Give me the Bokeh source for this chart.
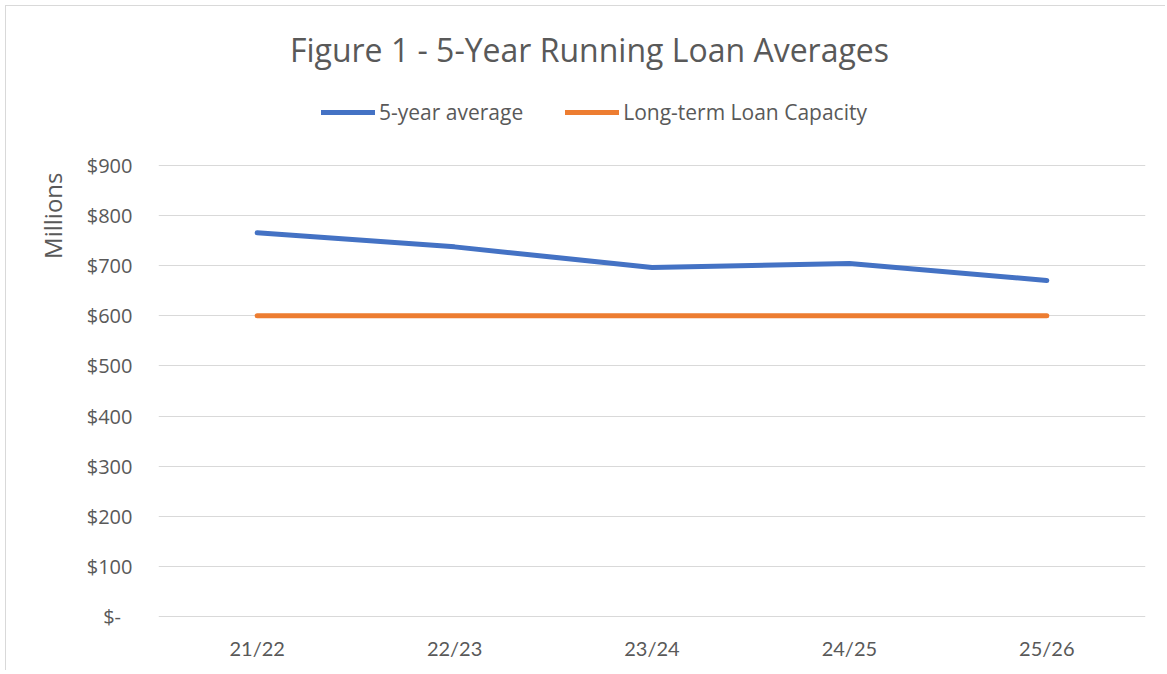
import math
from bokeh.plotting import figure
from bokeh.models import (FactorRange, Range1d, Legend, LegendItem, Title, Label,
                          FixedTicker, ColumnDataSource)
from bokeh.embed import file_html
from bokeh.resources import INLINE

# ---- data ----
years = ["21/22", "22/23", "23/24", "24/25", "25/26"]
five_year_avg = [765, 737, 696, 704, 670]
loan_capacity = [600, 600, 600, 600, 600]
y_ticks = [0, 100, 200, 300, 400, 500, 600, 700, 800, 900]
y_tick_labels = ["$-\u2007", "$100", "$200", "$300", "$400", "$500",
                 "$600", "$700", "$800", "$900"]
title_text = "Figure 1 - 5-Year Running Loan Averages"
series_names = ["5-year average", "Long-term Loan Capacity"]
y_label = "Millions"

BLUE = "#4472C4"
ORANGE = "#ED7D31"
GREY_TXT = "#595959"
FONT = "Open Sans"

src = ColumnDataSource(dict(x=years, avg=five_year_avg, cap=loan_capacity))

# the frame extends up to the top of the chart, so title and legend sit inside it;
# the y range runs past 900 only to make room for them (no ticks/grid up there)
p = figure(width=1160, height=665, x_range=FactorRange(*years, range_padding=0),
           y_range=Range1d(-1, 1215.6), output_backend="svg",
           toolbar_location=None, title_location=None,
           min_border_left=152, min_border_right=21, min_border_top=0,
           min_border_bottom=54)
p.outline_line_color = None
p.background_fill_color = "white"
p.border_fill_color = "white"
p.styles = {"border-left": "1px solid #d9d9d9", "border-top": "1px solid #d9d9d9",
            "margin-left": "5px", "margin-top": "5px"}

r1 = p.line("x", "avg", source=src, line_color=BLUE, line_width=5,
            line_cap="round", line_join="round")
r2 = p.line("x", "cap", source=src, line_color=ORANGE, line_width=5,
            line_cap="round", line_join="round")

# axes
p.yaxis.ticker = FixedTicker(ticks=y_ticks)
p.yaxis.major_label_overrides = {t: l for t, l in zip(y_ticks, y_tick_labels)}
for ax in (p.xaxis[0], p.yaxis[0]):
    ax.axis_line_color = None
    ax.major_tick_line_color = None
    ax.minor_tick_line_color = None
    ax.major_tick_out = 0
    ax.major_tick_in = 0
    ax.minor_tick_out = 0
    ax.major_label_text_color = GREY_TXT
p.yaxis.major_label_text_font = FONT
p.yaxis.major_label_text_font_size = "20px"
p.yaxis.major_label_standoff = 26
p.xaxis.major_label_text_font = "Lato"
p.xaxis.major_label_text_font_size = "20px"
p.xaxis.major_label_standoff = 18

p.xgrid.grid_line_color = None
p.ygrid.grid_line_color = "#d9d9d9"
p.ygrid.grid_line_width = 1

# legend
legend = Legend(items=[LegendItem(label=series_names[0], renderers=[r1]),
                       LegendItem(label=series_names[1], renderers=[r2])],
                orientation="horizontal", location=(163, 491),
                glyph_width=54, glyph_height=20, label_height=20,
                label_standoff=4, spacing=42, padding=0, margin=0,
                border_line_color=None, background_fill_alpha=0,
                label_text_font=FONT, label_text_font_size="21px",
                label_text_color=GREY_TXT)
p.add_layout(legend)

# chart title
p.add_layout(Label(x=431, y=568, x_units="screen", y_units="screen",
                   text=title_text, text_align="center", text_baseline="middle",
                   text_font=FONT, text_font_size="32px", text_color=GREY_TXT))

# y label as a side title, near the top of the value axis
p.add_layout(Title(text=y_label, align="right", offset=166, standoff=29,
                   text_font=FONT, text_font_size="24px",
                   text_font_style="normal", text_color=GREY_TXT), "left")

open("out.html", "w").write(file_html(p, INLINE))
